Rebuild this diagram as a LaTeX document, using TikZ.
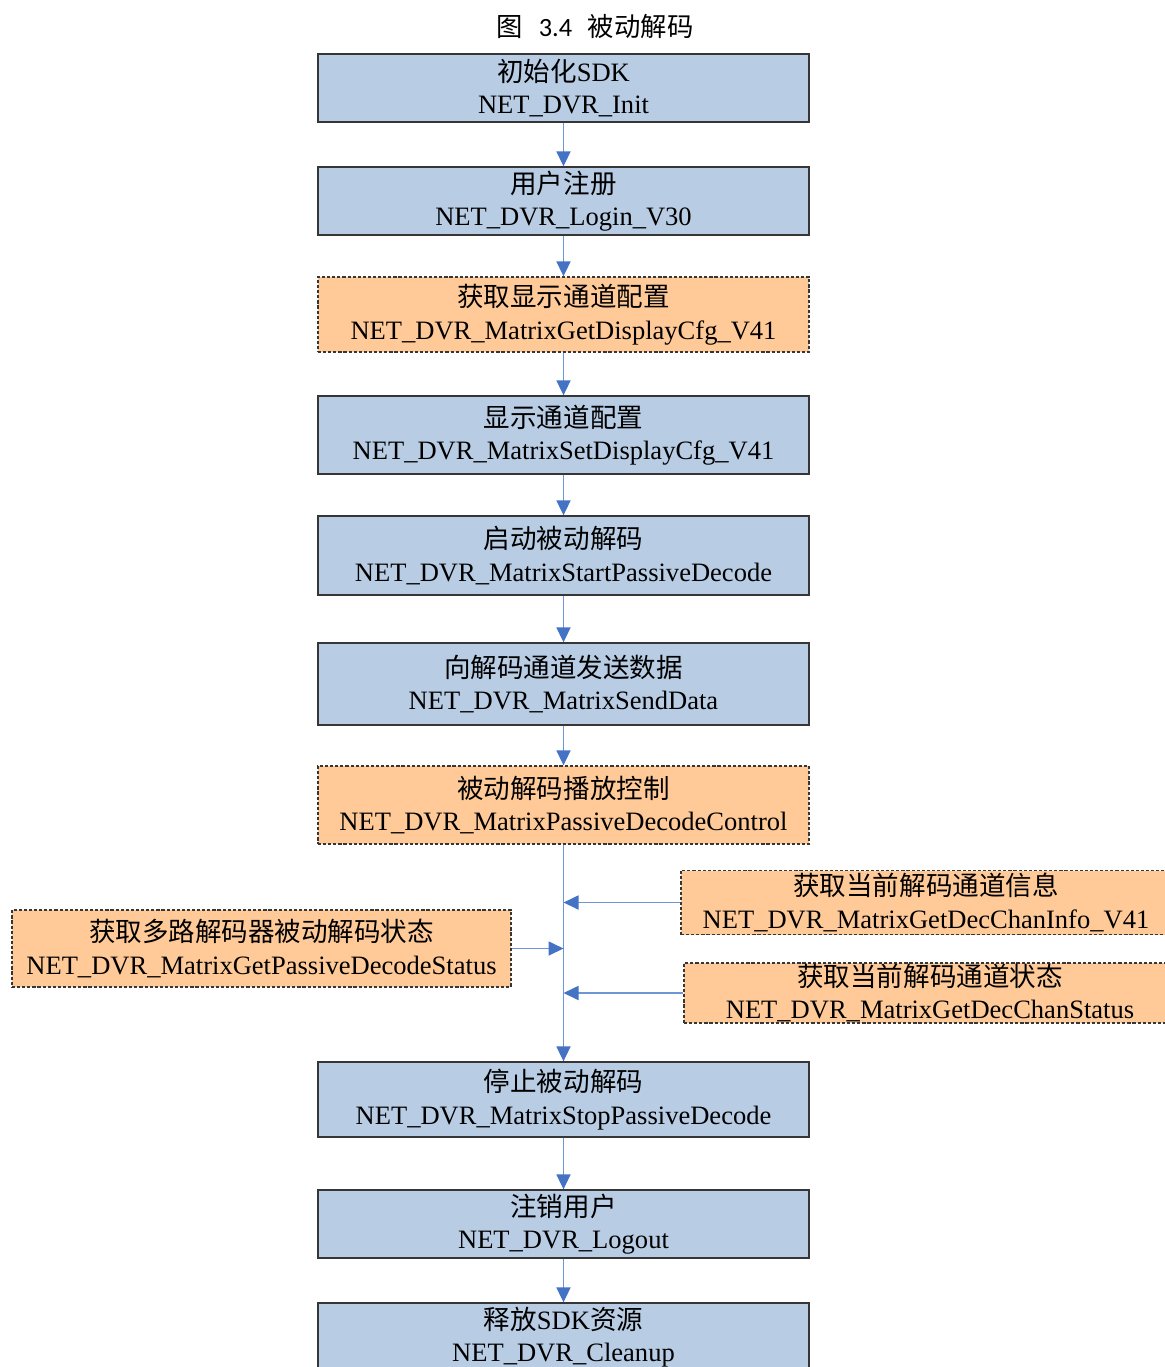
\documentclass[tikz,border=0pt]{standalone}
\usepackage{fontspec}
\setmainfont{Liberation Serif}
\newfontfamily\cjk{Noto Sans CJK SC}
\newfontfamily\titlenum{Carlito}
\usetikzlibrary{arrows.meta}
\definecolor{boxblue}{HTML}{B8CCE4}
\definecolor{boxorange}{HTML}{FFCA97}
\definecolor{edgegray}{HTML}{363636}
\definecolor{linkline}{HTML}{6D96D6}
\definecolor{tipblue}{HTML}{4472C4}
\newcommand\zh[1]{{\cjk #1}}
\tikzset{
  basebox/.style={rectangle, draw=edgegray, line width=0.75pt, align=center,
    font=\fontsize{15.1}{18.5}\selectfont, inner sep=0pt},
  bluebox/.style={basebox, fill=boxblue, minimum width=9.82cm},
  orangebox/.style={basebox, fill=boxorange, dash pattern=on 1.8pt off 1.1pt},
  link/.style={draw=linkline, line width=1pt,
    -{Triangle[length=0.3cm,width=0.28cm,color=tipblue]}}
}
\begin{document}
\begin{tikzpicture}
\useasboundingbox (0,0) rectangle (23.3,-27.34);
\clip (0,0) rectangle (23.3,-27.34);
\node[font=\fontsize{15}{18}\selectfont, inner sep=0pt] (title) at (11.9,-0.53)
  {\zh{图}\hspace{9pt}{\titlenum 3.4}\hspace{9pt}\zh{被动解码}};

\node[bluebox, minimum height=1.36cm] (n1) at (11.27,-1.76) {\zh{初始化}SDK\\NET\_DVR\_Init};
\node[bluebox, minimum height=1.36cm] (n2) at (11.27,-4.02) {\zh{用户注册}\\NET\_DVR\_Login\_V30};
\node[orangebox, minimum width=9.82cm, minimum height=1.5cm] (n3) at (11.27,-6.29) {\zh{获取显示通道配置}\\NET\_DVR\_MatrixGetDisplayCfg\_V41};
\node[bluebox, minimum height=1.56cm] (n4) at (11.27,-8.70) {\zh{显示通道配置}\\NET\_DVR\_MatrixSetDisplayCfg\_V41};
\node[bluebox, minimum height=1.58cm] (n5) at (11.27,-11.11) {\zh{启动被动解码}\\NET\_DVR\_MatrixStartPassiveDecode};
\node[bluebox, minimum height=1.64cm] (n6) at (11.27,-13.68) {\zh{向解码通道发送数据}\\NET\_DVR\_MatrixSendData};
\node[orangebox, minimum width=9.82cm, minimum height=1.56cm] (n7) at (11.27,-16.10) {\zh{被动解码播放控制}\\NET\_DVR\_MatrixPassiveDecodeControl};

\node[orangebox, minimum width=9.8cm, minimum height=1.28cm] (ra) at (18.52,-18.05) {\zh{获取当前解码通道信息}\\NET\_DVR\_MatrixGetDecChanInfo\_V41};
\node[orangebox, minimum width=9.98cm, minimum height=1.54cm] (lb) at (5.23,-18.97) {\zh{获取多路解码器被动解码状态}\\NET\_DVR\_MatrixGetPassiveDecodeStatus};
\node[orangebox, minimum width=9.84cm, minimum height=1.2cm] (rb) at (18.60,-19.86) {\zh{获取当前解码通道状态}\\NET\_DVR\_MatrixGetDecChanStatus};

\node[bluebox, minimum height=1.5cm] (n8) at (11.27,-21.99) {\zh{停止被动解码}\\NET\_DVR\_MatrixStopPassiveDecode};
\node[bluebox, minimum height=1.36cm] (n9) at (11.27,-24.48) {\zh{注销用户}\\NET\_DVR\_Logout};
\node[bluebox, minimum height=1.36cm] (n10) at (11.27,-26.74) {\zh{释放}SDK\zh{资源}\\NET\_DVR\_Cleanup};

\draw[link] (n1) -- (n2);
\draw[link] (n2) -- (n3);
\draw[link] (n3) -- (n4);
\draw[link] (n4) -- (n5);
\draw[link] (n5) -- (n6);
\draw[link] (n6) -- (n7);
\draw[link] (n7) -- (n8);
\draw[link] (n8) -- (n9);
\draw[link] (n9) -- (n10);

\coordinate (ja) at (n7.south |- ra.west);
\coordinate (jl) at (n7.south |- lb.east);
\coordinate (jb) at (n7.south |- rb.west);
\draw[link] (ra.west) -- (ja);
\draw[link] (lb.east) -- (jl);
\draw[link] (rb.west) -- (jb);
\end{tikzpicture}
\end{document}
